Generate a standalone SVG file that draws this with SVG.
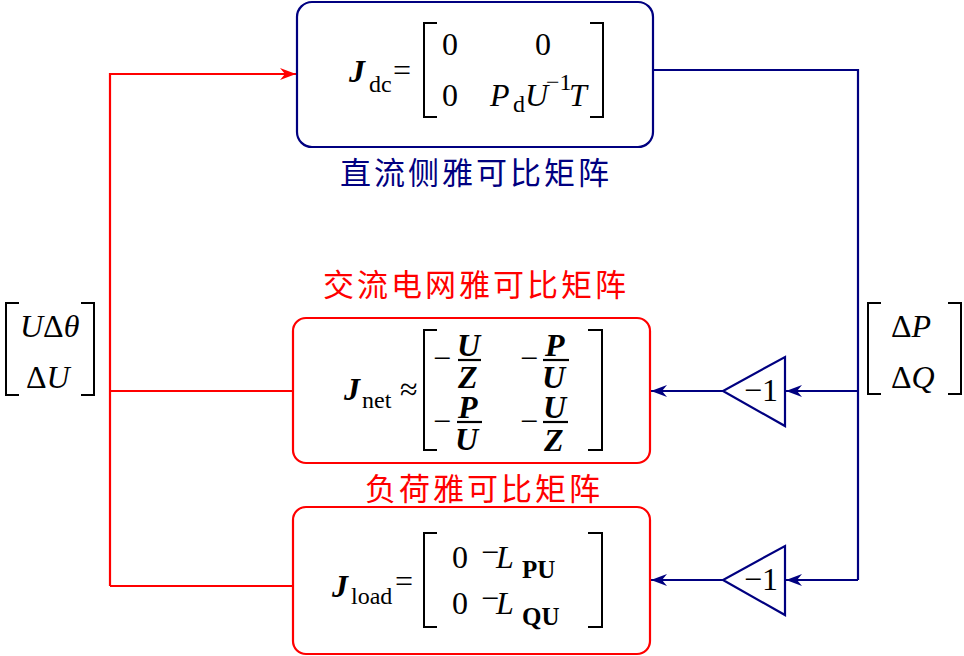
<svg xmlns="http://www.w3.org/2000/svg" width="964" height="656" viewBox="0 0 964 656">
<style>
.m{font-family:"Liberation Serif","Times New Roman",serif;font-size:32px;fill:#000}
.i{font-style:italic}
.bi{font-style:italic;font-weight:bold}
.s{font-size:24px}
.sb{font-size:25px;font-weight:bold}
.br{fill:none;stroke:#000;stroke-width:2}
.cn{font-family:"Noto Sans CJK SC","Noto Sans",sans-serif;font-size:31px}
.nv{stroke:#000080;stroke-width:2.2;fill:none}
.rd{stroke:#ff0000;stroke-width:2.2;fill:none}
.bar{stroke:#000;stroke-width:2.2}
</style>
<defs>
<marker id="an" markerUnits="userSpaceOnUse" markerWidth="20" markerHeight="16" refX="16" refY="7" orient="auto" viewBox="0 0 20 16">
<path d="M0,1 L16,7 L0,13 L5,7 Z" fill="#000080"/>
</marker>
<marker id="ar" markerUnits="userSpaceOnUse" markerWidth="20" markerHeight="16" refX="16" refY="7" orient="auto" viewBox="0 0 20 16">
<path d="M0,1 L16,7 L0,13 L5,7 Z" fill="#ff0000"/>
</marker>
</defs>

<g id="connectors">
<path class="rd" d="M110,586 V74 H296" marker-end="url(#ar)"/>
<path class="rd" d="M110,391 H293"/>
<path class="rd" d="M110,586 H293"/>
<path class="nv" d="M653,70 H858 V580"/>
<path class="nv" d="M858,391 H786" marker-end="url(#an)"/>
<path class="nv" d="M723,391 H651" marker-end="url(#an)"/>
<path class="nv" d="M858,580 H786" marker-end="url(#an)"/>
<path class="nv" d="M723,580 H651" marker-end="url(#an)"/>
</g>

<g id="dc">
<rect x="297" y="2" width="356" height="145" rx="15" class="nv"/>
<text class="m bi" x="349" y="82">J</text>
<text class="m s" x="369" y="92">dc</text>
<text class="m" x="393" y="81">=</text>
<path class="br" d="M437,23 H424 V117 H437"/>
<path class="br" d="M590,23 H603 V117 H590"/>
<text class="m" x="442" y="55">0</text>
<text class="m" x="535" y="55">0</text>
<text class="m" x="442" y="106">0</text>
<text class="m i" x="490" y="106">P</text>
<text class="m s" x="513" y="112">d</text>
<text class="m i" x="525" y="106">U</text>
<text class="m s" x="546" y="90">−1</text>
<text class="m i" x="569" y="106">T</text>
<text class="cn" x="476" y="184" text-anchor="middle" fill="#000080" letter-spacing="3">直流侧雅可比矩阵</text>
</g>

<g id="net">
<text class="cn" x="476" y="296" text-anchor="middle" fill="#ff0000" letter-spacing="3">交流电网雅可比矩阵</text>
<rect x="293" y="318" width="357" height="145" rx="13" class="rd"/>
<text class="m bi" x="344" y="400">J</text>
<text class="m s" x="362" y="408">net</text>
<text class="m" x="400" y="400" font-size="24">≈</text>
<path class="br" d="M437,330 H424 V450 H437"/>
<path class="br" d="M588,330 H602 V450 H588"/>
<text class="m" x="433" y="369">−</text>
<text class="m bi" x="457" y="356">U</text>
<line class="bar" x1="458" y1="360" x2="481" y2="360"/>
<text class="m bi" x="458" y="388">Z</text>
<text class="m" x="520" y="369">−</text>
<text class="m bi" x="545" y="356">P</text>
<line class="bar" x1="543" y1="360" x2="569" y2="360"/>
<text class="m bi" x="542" y="388">U</text>
<text class="m" x="433" y="432">−</text>
<text class="m bi" x="458" y="418">P</text>
<line class="bar" x1="457" y1="422" x2="482" y2="422"/>
<text class="m bi" x="455" y="450">U</text>
<text class="m" x="520" y="432">−</text>
<text class="m bi" x="543" y="418">U</text>
<line class="bar" x1="543" y1="422" x2="568" y2="422"/>
<text class="m bi" x="544" y="451">Z</text>
</g>

<g id="load">
<text class="cn" x="484" y="500" text-anchor="middle" fill="#ff0000" letter-spacing="3">负荷雅可比矩阵</text>
<rect x="293" y="507" width="357" height="147" rx="13" class="rd"/>
<text class="m bi" x="332" y="597">J</text>
<text class="m s" x="351" y="604">load</text>
<text class="m" x="395" y="592">=</text>
<path class="br" d="M437,533 H424 V627 H437"/>
<path class="br" d="M588,533 H602 V627 H588"/>
<text class="m" x="452" y="568">0</text>
<text class="m" x="481" y="563">−</text>
<text class="m i" x="496" y="568" font-size="34">L</text>
<text class="m sb" x="522" y="578">PU</text>
<text class="m" x="452" y="614">0</text>
<text class="m" x="481" y="609">−</text>
<text class="m i" x="496" y="614" font-size="34">L</text>
<text class="m sb" x="522" y="625">QU</text>
</g>

<g id="vecU">
<path class="br" d="M19,303 H6 V395 H19"/>
<path class="br" d="M81,303 H94 V395 H81"/>
<text class="m" x="20" y="337"><tspan class="i">U</tspan>Δ<tspan class="i">θ</tspan></text>
<text class="m" x="26" y="388">Δ<tspan class="i">U</tspan></text>
</g>

<g id="vecPQ">
<path class="br" d="M881,303 H868 V394 H881"/>
<path class="br" d="M948,303 H961 V394 H948"/>
<text class="m" x="891" y="337">Δ<tspan class="i">P</tspan></text>
<text class="m" x="891" y="388">Δ<tspan class="i">Q</tspan></text>
</g>

<g id="gain1">
<path class="nv" d="M785,357 V426 L723,391 Z"/>
<text class="m" x="744" y="401">−1</text>
</g>
<g id="gain2">
<path class="nv" d="M785,546 V615 L723,580 Z"/>
<text class="m" x="744" y="590">−1</text>
</g>
</svg>
